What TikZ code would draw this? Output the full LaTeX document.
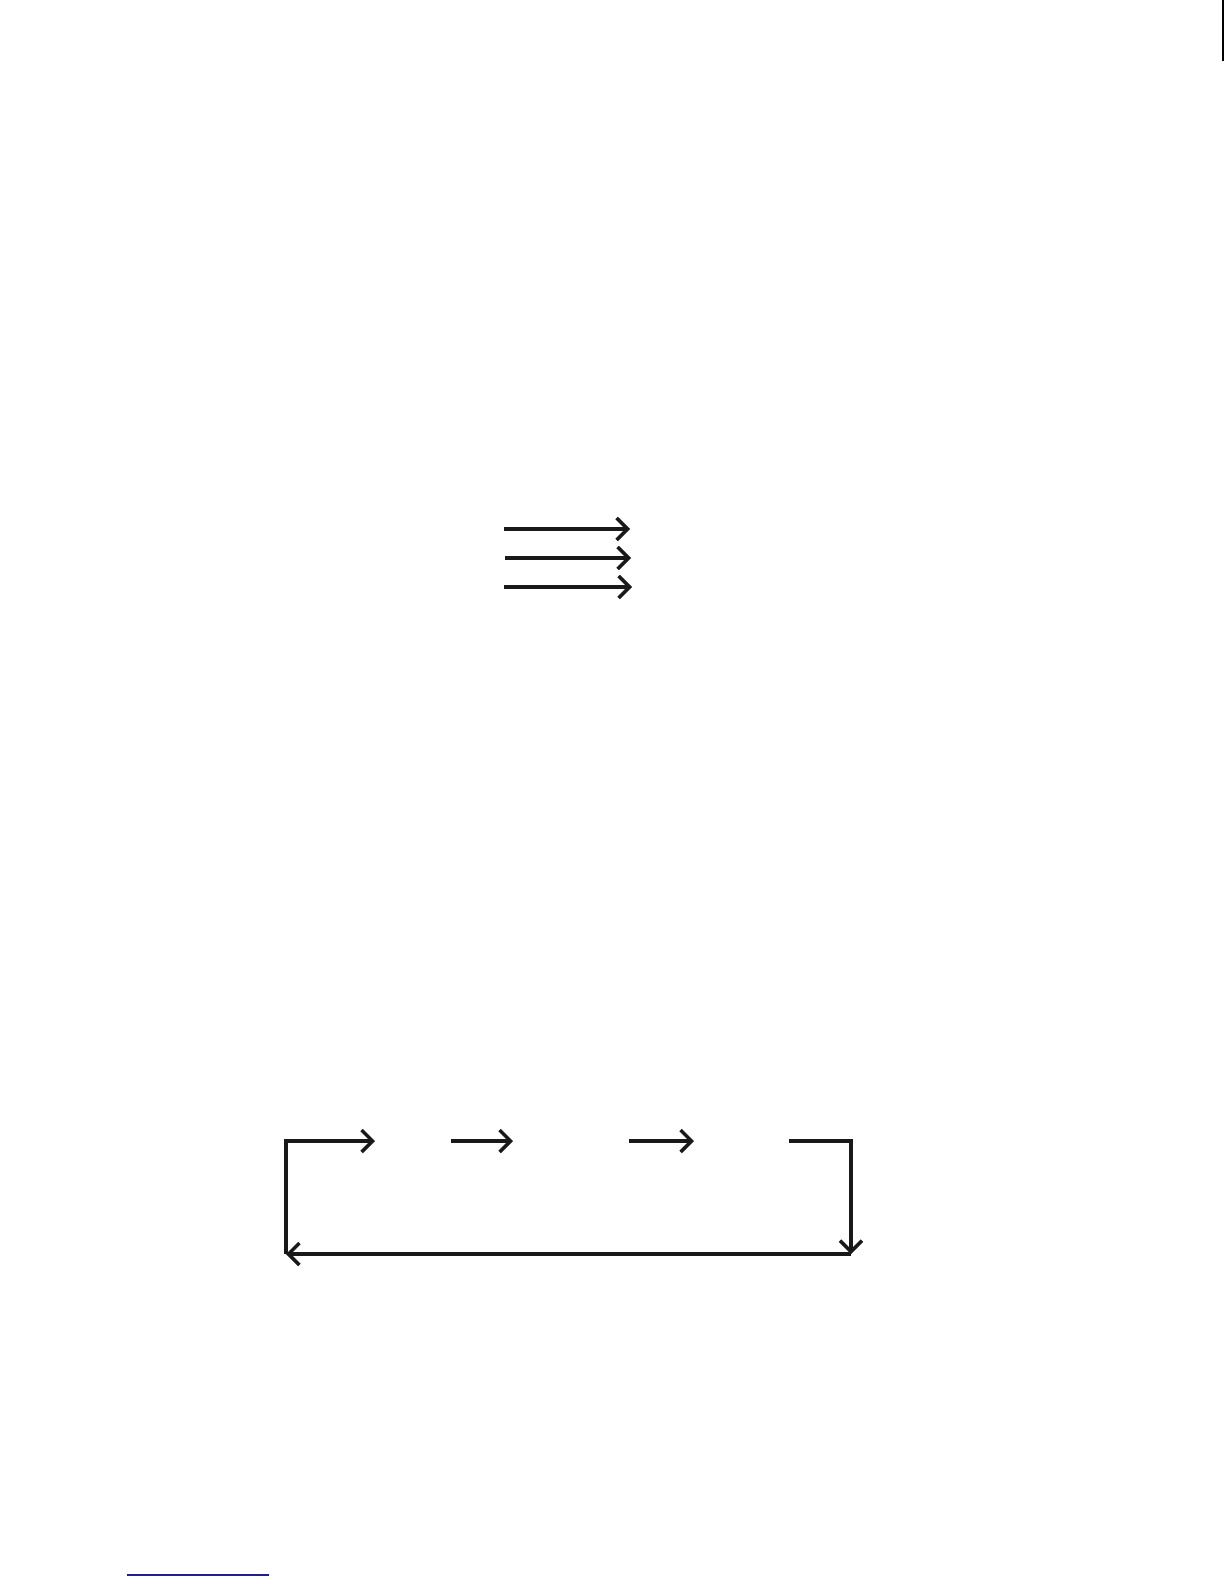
\documentclass[tikz,border=0pt]{standalone}
\usetikzlibrary{arrows.meta}
\definecolor{linkblue}{RGB}{30,30,140}
\begin{document}
\begin{tikzpicture}[x=1pt,y=-1pt,
  conn/.style={line width=4pt,draw=black!90},
  arr/.style={conn,-{Straight Barb[length=11pt,width=22pt,line width=3.5pt]}},
  edge/.style={line width=2pt,draw=black}]
\useasboundingbox (0,0) rectangle (1224,1584);
% right edge mark
\coordinate (e1) at (1222.5,0);
\coordinate (e2) at (1222.5,61);
\draw[edge] (e1) -- (e2);
% three parallel arrows
\coordinate (p1s) at (504,529); \coordinate (p1e) at (630,529);
\coordinate (p2s) at (505,558); \coordinate (p2e) at (631,558);
\coordinate (p3s) at (504,587); \coordinate (p3e) at (632,587);
\draw[arr] (p1s) -- (p1e);
\draw[arr] (p2s) -- (p2e);
\draw[arr] (p3s) -- (p3e);
% loop
\coordinate (TL) at (286,1141);
\coordinate (BL) at (286,1254);
\coordinate (A1) at (375,1141);
\coordinate (B0) at (451,1141);
\coordinate (B1) at (513,1141);
\coordinate (C0) at (629,1141);
\coordinate (C1) at (694,1141);
\coordinate (D0) at (789,1141);
\coordinate (TR) at (851,1141);
\coordinate (BR) at (851,1254);
\draw[arr] (BL) -- (TL) -- (A1);
\draw[arr] (B0) -- (B1);
\draw[arr] (C0) -- (C1);
\draw[arr] (D0) -- (TR) -- (BR);
\draw[arr] (BR) -- (BL);
% blue rule
\coordinate (u1) at (127,1575);
\coordinate (u2) at (269,1575);
\draw[line width=2pt,draw=linkblue] (u1) -- (u2);
\end{tikzpicture}
\end{document}
